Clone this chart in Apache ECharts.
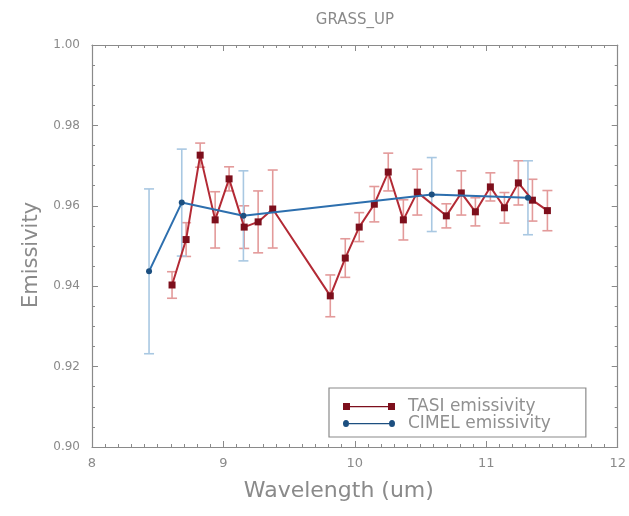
<!DOCTYPE html>
<html>
<head>
<meta charset="utf-8">
<script src="https://cdn.jsdelivr.net/npm/echarts@6/dist/echarts.min.js"></script>
<style>
  html, body { margin: 0; padding: 0; background: #fff; }
  #chart { width: 629px; height: 516px; }
</style>
</head>
<body>
<div id="chart"></div>
<script>
// TASI emissivity spectrum (wavelength in um, emissivity, half error)
const tasiX = [8.609, 8.716, 8.823, 8.937, 9.043, 9.158, 9.264, 9.375, 9.813, 9.927, 10.033, 10.148,
               10.254, 10.369, 10.475, 10.696, 10.810, 10.917, 11.031, 11.138, 11.244, 11.351, 11.465];
const tasiY = [0.9403, 0.9516, 0.9726, 0.9565, 0.9667, 0.9547, 0.9560, 0.9592, 0.9376, 0.9470, 0.9547, 0.9604,
               0.9684, 0.9565, 0.9634, 0.9575, 0.9632, 0.9585, 0.9647, 0.9595, 0.9657, 0.9614, 0.9588];
const tasiErr = [0.0033, 0.0042, 0.0030, 0.0070, 0.0030, 0.0053, 0.0077, 0.0097, 0.0052, 0.0048, 0.0036, 0.0044,
                 0.0047, 0.0050, 0.0057, 0.0030, 0.0055, 0.0035, 0.0035, 0.0038, 0.0055, 0.0052, 0.0050];

// CIMEL emissivity (band centres)
const cimelX = [8.434, 8.683, 9.152, 10.585, 11.317];
const cimelY = [0.9437, 0.9608, 0.9575, 0.9628, 0.9620];
const cimelErr = [0.0205, 0.0133, 0.0112, 0.0092, 0.0092];

// Axis ranges and ticks
const xRange = [8, 12], xStep = 1;
const yRange = [0.90, 1.00], yStep = 0.02;

const FONT = 'DejaVu Sans';
const GREY = '#8a8a8a';

function errorBars(xs, ys, es, color) {
  return {
    type: 'custom',
    xAxisIndex: 0, yAxisIndex: 0,
    z: 1,
    silent: true,
    data: xs.map((x, i) => [x, ys[i], es[i]]),
    renderItem: function (params, api) {
      const x = api.value(0), y = api.value(1), e = api.value(2);
      const top = api.coord([x, y + e]);
      const bot = api.coord([x, y - e]);
      const hw = 5;
      const st = { stroke: color, lineWidth: 1.6 };
      return {
        type: 'group',
        children: [
          { type: 'line', shape: { x1: top[0], y1: top[1], x2: bot[0], y2: bot[1] }, style: st },
          { type: 'line', shape: { x1: top[0] - hw, y1: top[1], x2: top[0] + hw, y2: top[1] }, style: st },
          { type: 'line', shape: { x1: bot[0] - hw, y1: bot[1], x2: bot[0] + hw, y2: bot[1] }, style: st }
        ]
      };
    }
  };
}

function xAxisDef(pos, showLabels) {
  return {
    type: 'value', position: pos, min: xRange[0], max: xRange[1], interval: xStep,
    axisLine: { show: true, onZero: false, lineStyle: { color: GREY, width: 1.2 } },
    axisTick: { show: true, inside: true, length: 6, lineStyle: { color: GREY } },
    minorTick: { show: true, splitNumber: 10, length: 3, lineStyle: { color: GREY } },
    splitLine: { show: false },
    axisLabel: { show: showLabels, color: GREY, fontFamily: FONT, fontSize: 13, margin: 10 },
    name: showLabels ? 'Wavelength (um)' : '',
    nameLocation: 'middle', nameGap: 33,
    nameTextStyle: { color: GREY, fontFamily: FONT, fontSize: 22, padding: [0, 32, 0, 0] }
  };
}

function yAxisDef(pos, showLabels) {
  return {
    type: 'value', position: pos, min: yRange[0], max: yRange[1], interval: yStep,
    axisLine: { show: true, onZero: false, lineStyle: { color: GREY, width: 1.2 } },
    axisTick: { show: true, inside: true, length: 6, lineStyle: { color: GREY } },
    minorTick: { show: true, splitNumber: 4, length: 3, lineStyle: { color: GREY } },
    splitLine: { show: false },
    axisLabel: { show: showLabels, color: GREY, fontFamily: FONT, fontSize: 12, margin: 12,
                 formatter: v => v.toFixed(2) },
    name: showLabels ? 'Emissivity' : '',
    nameLocation: 'middle', nameGap: 50, nameRotate: 90,
    nameTextStyle: { color: GREY, fontFamily: FONT, fontSize: 21, padding: [0, 18, 0, 0] }
  };
}

const tasiIcon = 'path://M0,0H7V7H0Z M45,0H52V7H45Z M7,3H45V4.2H7Z';
const cimelIcon = 'path://M0,3.5A3,3 0 1,0 6,3.5A3,3 0 1,0 0,3.5Z M46,3.5A3,3 0 1,0 52,3.5A3,3 0 1,0 46,3.5Z M6,3H46V4.2H6Z';

const option = {
  animation: false,
  backgroundColor: '#ffffff',
  title: {
    text: 'GRASS_UP', left: 350, top: 8, textAlign: 'center',
    textStyle: { color: GREY, fontFamily: FONT, fontSize: 15, fontWeight: 'normal' }
  },
  grid: { left: 92, right: 11, top: 45, bottom: 69 },
  xAxis: [xAxisDef('bottom', true), xAxisDef('top', false)],
  yAxis: [yAxisDef('left', true), yAxisDef('right', false)],
  legend: {
    orient: 'vertical', left: 329, top: 388,
    padding: [10, 35, 5, 14], itemGap: 0,
    itemWidth: 52, itemHeight: 7, symbolKeepAspect: false,
    borderColor: GREY, borderWidth: 1.2,
    textStyle: { color: '#909090', fontFamily: FONT, fontSize: 17, lineHeight: 14, padding: [0, 0, 0, 8] },
    data: [
      { name: 'TASI emissivity', icon: tasiIcon, itemStyle: { color: '#7d0f1c' } },
      { name: 'CIMEL emissivity', icon: cimelIcon, itemStyle: { color: '#1c4f80' } }
    ]
  },
  series: [
    errorBars(tasiX, tasiY, tasiErr, '#e39a9a'),
    errorBars(cimelX, cimelY, cimelErr, '#a9c8e2'),
    {
      name: 'TASI emissivity', type: 'line', z: 3,
      data: tasiX.map((x, i) => [x, tasiY[i]]),
      symbol: 'rect', symbolSize: 7, showAllSymbol: true,
      itemStyle: { color: '#7d0f1c' },
      lineStyle: { color: '#b32a35', width: 2 }
    },
    {
      name: 'CIMEL emissivity', type: 'line', z: 4,
      data: cimelX.map((x, i) => [x, cimelY[i]]),
      symbol: 'circle', symbolSize: 6, showAllSymbol: true,
      itemStyle: { color: '#1c4f80' },
      lineStyle: { color: '#2d6fae', width: 2 }
    }
  ]
};

const chart = echarts.init(document.getElementById('chart'), null, { renderer: 'canvas' });
chart.setOption(option);
</script>
</body>
</html>
